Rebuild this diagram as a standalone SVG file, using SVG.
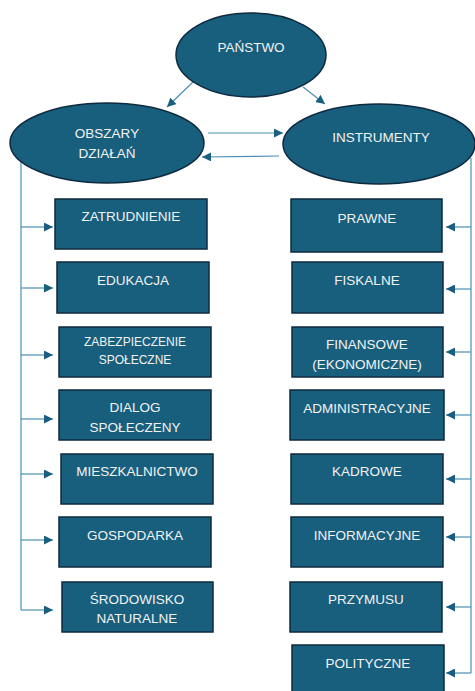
<svg xmlns="http://www.w3.org/2000/svg" width="475" height="691" viewBox="0 0 475 691">
<defs>
<style>
.n{fill:#185f7e;stroke:#0e2a3e;stroke-width:1.5}
.t{fill:#f2f2f2;font-family:"Liberation Sans",Arial,sans-serif;font-size:13.5px;text-anchor:middle}
.s{font-size:12px}
.c{fill:none;stroke:#4a8fb3;stroke-width:1.2}
</style>
<marker id="ah" viewBox="0 0 10 10" refX="10" refY="5" markerWidth="9" markerHeight="9" markerUnits="userSpaceOnUse" orient="auto">
<path d="M0,0L10,5L0,10z" fill="#1b5f80"/>
</marker>
</defs>
<rect width="475" height="691" fill="#fff"/>
<g id="connectors">
<line class="c" x1="193" y1="82" x2="167" y2="107" marker-end="url(#ah)"/>
<line class="c" x1="303" y1="87" x2="325" y2="104" marker-end="url(#ah)"/>
<line class="c" x1="208" y1="133" x2="283" y2="133" marker-end="url(#ah)"/>
<line class="c" x1="279" y1="156" x2="202" y2="157" marker-end="url(#ah)"/>
<path class="c" d="M21,157V610"/>
<line class="c" x1="21" y1="227" x2="53" y2="227" marker-end="url(#ah)"/>
<line class="c" x1="21" y1="288" x2="53" y2="288" marker-end="url(#ah)"/>
<line class="c" x1="21" y1="355" x2="53" y2="355" marker-end="url(#ah)"/>
<line class="c" x1="21" y1="419" x2="53" y2="419" marker-end="url(#ah)"/>
<line class="c" x1="21" y1="474" x2="53" y2="474" marker-end="url(#ah)"/>
<line class="c" x1="21" y1="540" x2="53" y2="540" marker-end="url(#ah)"/>
<line class="c" x1="21" y1="610" x2="53" y2="610" marker-end="url(#ah)"/>
<path class="c" d="M471,158V673"/>
<line class="c" x1="471" y1="227" x2="446" y2="227" marker-end="url(#ah)"/>
<line class="c" x1="471" y1="289" x2="446" y2="289" marker-end="url(#ah)"/>
<line class="c" x1="471" y1="352" x2="446" y2="352" marker-end="url(#ah)"/>
<line class="c" x1="471" y1="415" x2="446" y2="415" marker-end="url(#ah)"/>
<line class="c" x1="471" y1="479" x2="446" y2="479" marker-end="url(#ah)"/>
<line class="c" x1="471" y1="537" x2="446" y2="537" marker-end="url(#ah)"/>
<line class="c" x1="471" y1="607" x2="446" y2="607" marker-end="url(#ah)"/>
<line class="c" x1="471" y1="673" x2="446" y2="673" marker-end="url(#ah)"/>
</g>
<g id="panstwo"><ellipse class="n" cx="251" cy="55" rx="75" ry="42"/><text class="t" x="251" y="52">PAŃSTWO</text></g>
<g id="obszary"><ellipse class="n" cx="107" cy="143" rx="97" ry="40"/><text class="t" x="107" y="138">OBSZARY</text><text class="t" x="107" y="158">DZIAŁAŃ</text></g>
<g id="instrumenty"><ellipse class="n" cx="379" cy="144" rx="96" ry="40"/><text class="t" x="381" y="142">INSTRUMENTY</text></g>
<g id="zatrudnienie"><rect class="n" x="55" y="199" width="152" height="50"/><text class="t" x="131" y="221">ZATRUDNIENIE</text></g>
<g id="edukacja"><rect class="n" x="57" y="262" width="152" height="51"/><text class="t" x="133" y="285">EDUKACJA</text></g>
<g id="zabezpieczenie"><rect class="n" x="59" y="327" width="152" height="50"/><text class="t s" x="135" y="346">ZABEZPIECZENIE</text><text class="t s" x="135" y="364">SPOŁECZNE</text></g>
<g id="dialog"><rect class="n" x="59" y="390" width="152" height="50"/><text class="t" x="135" y="412">DIALOG</text><text class="t" x="135" y="432">SPOŁECZENY</text></g>
<g id="mieszkalnictwo"><rect class="n" x="61" y="454" width="152" height="50"/><text class="t" x="137" y="476">MIESZKALNICTWO</text></g>
<g id="gospodarka"><rect class="n" x="59" y="517" width="152" height="50"/><text class="t" x="135" y="540">GOSPODARKA</text></g>
<g id="srodowisko"><rect class="n" x="62" y="582" width="151" height="50"/><text class="t" x="137" y="604">ŚRODOWISKO</text><text class="t" x="137" y="623">NATURALNE</text></g>
<g id="prawne"><rect class="n" x="291" y="199" width="151" height="53"/><text class="t" x="367" y="223">PRAWNE</text></g>
<g id="fiskalne"><rect class="n" x="292" y="262" width="151" height="51"/><text class="t" x="367" y="285">FISKALNE</text></g>
<g id="finansowe"><rect class="n" x="292" y="327" width="151" height="50"/><text class="t" x="367" y="349">FINANSOWE</text><text class="t" x="367" y="369">(EKONOMICZNE)</text></g>
<g id="administracyjne"><rect class="n" x="290" y="390" width="154" height="50"/><text class="t" x="367" y="413">ADMINISTRACYJNE</text></g>
<g id="kadrowe"><rect class="n" x="291" y="454" width="152" height="50"/><text class="t" x="367" y="476">KADROWE</text></g>
<g id="informacyjne"><rect class="n" x="291" y="517" width="152" height="50"/><text class="t" x="367" y="540">INFORMACYJNE</text></g>
<g id="przymusu"><rect class="n" x="290" y="582" width="152" height="50"/><text class="t" x="366" y="604">PRZYMUSU</text></g>
<g id="polityczne"><rect class="n" x="292" y="645" width="152" height="52"/><text class="t" x="368" y="668">POLITYCZNE</text></g>
</svg>
